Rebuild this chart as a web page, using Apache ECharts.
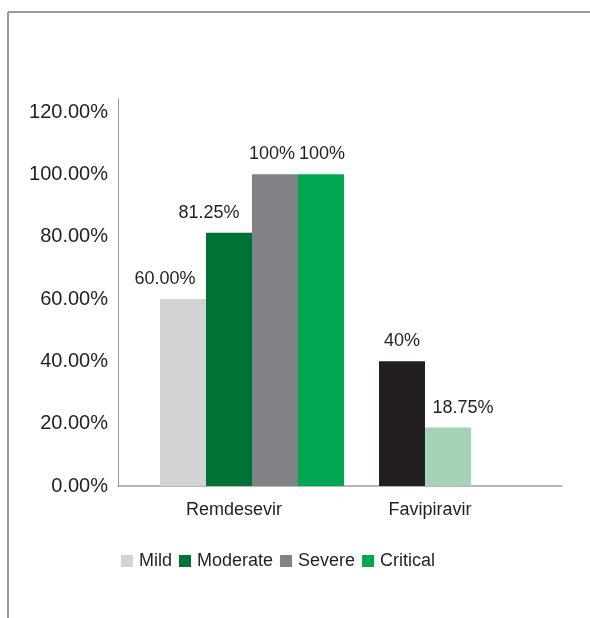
<!DOCTYPE html>
<html>
<head>
<meta charset="utf-8">
<script src="https://cdn.jsdelivr.net/npm/echarts@6/dist/echarts.min.js"></script>
<style>
  html, body { margin: 0; padding: 0; background: #fff; }
  #chart { width: 590px; height: 618px; }
</style>
</head>
<body>
<div id="chart"></div>
<script>
var categories = ['Remdesevir', 'Favipiravir'];
var seriesNames = ['Mild', 'Moderate', 'Severe', 'Critical'];
var mild = [60, 40];
var moderate = [81.25, 18.75];
var severe = [100, null];
var critical = [100, null];
var mildLabels = ['60.00%', '40%'];
var moderateLabels = ['81.25%', '18.75%'];
var severeLabels = ['100%', ''];
var criticalLabels = ['100%', ''];
var yTicks = [0, 20, 40, 60, 80, 100, 120];

var font = "'Liberation Sans', Arial, sans-serif";
var chart = echarts.init(document.getElementById('chart'));

// series colours, second colour is used for the Favipiravir bar
var colors = ['#d1d3d4', '#007236', '#808285', '#00a650'];
var favColors = ['#231f20', '#a3d5b5', null, null];
// label nudges
var labelShift = [[-18, 0], [-20, 0], [-3, 0], [1, 0]];
var favLabelShift = [[0, 0], [15, 0], [0, 0], [0, 0]];

var values = [mild, moderate, severe, critical];
var labels = [mildLabels, moderateLabels, severeLabels, criticalLabels];

function makeSeries(i) {
  var data = values[i].map(function (v, j) {
    if (v === null) return '-';
    var item = {
      value: v,
      label: { formatter: labels[i][j], offset: j === 0 ? labelShift[i] : favLabelShift[i] }
    };
    if (j === 1 && favColors[i]) item.itemStyle = { color: favColors[i] };
    return item;
  });
  return {
    name: seriesNames[i],
    type: 'bar',
    xAxisIndex: 1,
    yAxisIndex: 1,
    barWidth: 46,
    barGap: '0%',
    itemStyle: { color: colors[i] },
    label: {
      show: true,
      position: 'top',
      distance: 11,
      color: '#231f20',
      fontSize: 18,
      fontFamily: font
    },
    data: data
  };
}

var yMax = 124.17;

var option = {
  animation: false,
  backgroundColor: '#fff',
  textStyle: { fontFamily: font },
  graphic: [
    { type: 'line', shape: { x1: 8, y1: 12, x2: 590, y2: 12 }, style: { stroke: '#9a9a9a', lineWidth: 2 } },
    { type: 'line', shape: { x1: 8, y1: 12, x2: 8, y2: 618 }, style: { stroke: '#9a9a9a', lineWidth: 2 } }
  ],
  legend: {
    left: 116,
    top: 547,
    itemWidth: 12,
    itemHeight: 12,
    itemGap: 7,
    icon: 'rect',
    data: seriesNames,
    textStyle: { fontSize: 18, color: '#231f20', fontFamily: font, padding: [0, 0, 0, 1] }
  },
  grid: [
    { left: 118, right: 28, top: 99, bottom: 132 },
    { left: 142.5, right: 9.5, top: 99, bottom: 132 }
  ],
  xAxis: [
    {
      type: 'category',
      gridIndex: 0,
      data: categories,
      axisLine: { lineStyle: { color: '#a0a0a0', width: 1.5 } },
      axisTick: { show: false },
      axisLabel: {
        margin: 15,
        formatter: function (v) { return v === 'Favipiravir' ? '{b|' + v + '}' : '{a|' + v + '}'; },
        rich: {
          a: { fontSize: 18, color: '#231f20', fontFamily: font, padding: [0, 0, 0, 10] },
          b: { fontSize: 18, color: '#231f20', fontFamily: font, padding: [0, 42, 0, 0] }
        }
      }
    },
    {
      type: 'category',
      gridIndex: 1,
      data: categories,
      show: false
    }
  ],
  yAxis: [
    {
      type: 'value',
      gridIndex: 0,
      min: 0,
      max: yMax,
      interval: 20,
      axisLine: { show: true, lineStyle: { color: '#999', width: 1 } },
      axisTick: { show: false },
      splitLine: { show: false },
      axisLabel: {
        margin: 10,
        fontSize: 20,
        color: '#231f20',
        fontFamily: font,
        formatter: function (v) {
          return yTicks.indexOf(Math.round(v * 100) / 100) >= 0 ? v.toFixed(2) + '%' : '';
        }
      }
    },
    {
      type: 'value',
      gridIndex: 1,
      min: 0,
      max: yMax,
      show: false
    }
  ],
  series: [0, 1, 2, 3].map(makeSeries)
};

chart.setOption(option);
</script>
</body>
</html>
